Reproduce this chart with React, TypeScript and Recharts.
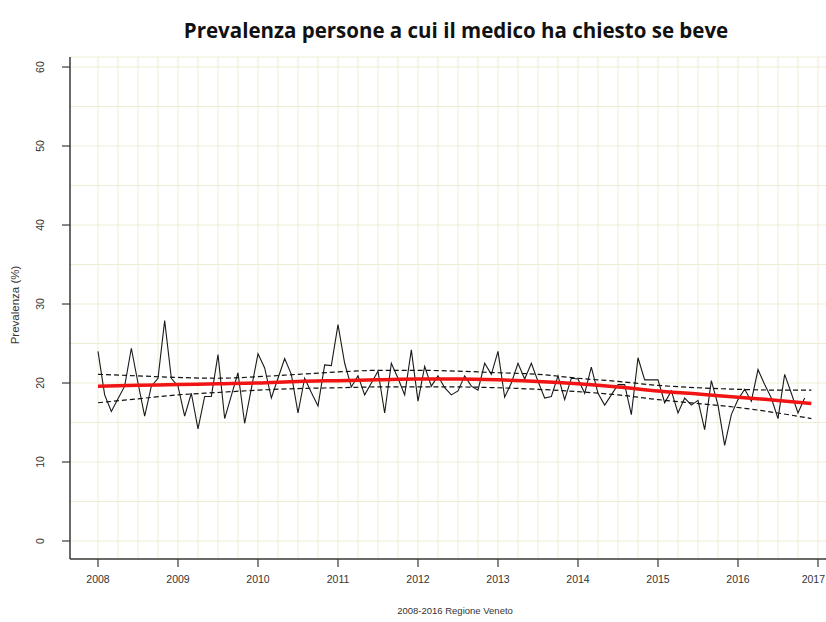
import React from "react";
import {
  LineChart,
  Line,
  XAxis,
  YAxis,
  CartesianGrid,
} from "recharts";

// Prevalenza mensile (%), gen 2008 - nov 2016
const prevalenza = [
  24.0, 18.5, 16.4, 18.0, 19.6, 24.4, 20.0, 15.8, 19.6, 20.6, 27.9, 20.6,
  19.6, 15.8, 18.7, 14.2, 18.3, 18.3, 23.6, 15.5, 18.4, 21.3, 14.9, 19.3,
  23.7, 21.9, 18.1, 20.6, 23.1, 21.1, 16.2, 20.6, 18.8, 17.1, 22.3, 22.2,
  27.4, 22.5, 19.5, 20.9, 18.5, 20.0, 21.5, 16.2, 22.5, 20.6, 18.5, 24.2,
  17.7, 22.1, 19.6, 20.9, 19.4, 18.5, 19.0, 20.9, 19.6, 19.1, 22.5, 21.1,
  24.0, 18.2, 20.0, 22.5, 20.5, 22.5, 20.2, 18.1, 18.3, 20.9, 17.9, 20.6,
  20.5, 18.7, 22.0, 18.7, 17.2, 18.5, 19.8, 19.8, 16.0, 23.2, 20.4, 20.4,
  20.4, 17.5, 19.0, 16.2, 18.1, 17.2, 17.8, 14.1, 20.3, 17.2, 12.1, 16.0,
  17.9, 19.2, 17.7, 21.7, 19.8, 18.1, 15.5, 21.1, 18.7, 16.2, 18.1,
];

// trend (rosso) e intervallo (tratteggiato), letti ogni sei mesi
const trendAnni = [
  2008, 2008.5, 2009, 2009.5, 2010, 2010.5, 2011, 2011.5, 2012, 2012.5, 2013,
  2013.5, 2014, 2014.5, 2015, 2015.5, 2016, 2016.5, 2016.917,
];
const trend = [
  19.6, 19.7, 19.8, 19.9, 20.0, 20.2, 20.3, 20.4, 20.5, 20.5, 20.4, 20.2,
  19.9, 19.5, 19.0, 18.6, 18.2, 17.8, 17.4,
];
const superiore = [
  21.1, 20.9, 20.7, 20.6, 20.8, 21.1, 21.4, 21.6, 21.6, 21.5, 21.3, 21.1,
  20.6, 20.2, 19.7, 19.4, 19.2, 19.1, 19.1,
];
const inferiore = [
  17.5, 18.0, 18.5, 18.8, 19.1, 19.3, 19.4, 19.5, 19.5, 19.5, 19.4, 19.2,
  18.9, 18.5, 17.9, 17.4, 16.9, 16.2, 15.5,
];

const anniTick = [
  2008, 2008.25, 2008.5, 2008.75, 2009, 2009.25, 2009.5, 2009.75, 2010,
  2010.25, 2010.5, 2010.75, 2011, 2011.25, 2011.5, 2011.75, 2012, 2012.25,
  2012.5, 2012.75, 2013, 2013.25, 2013.5, 2013.75, 2014, 2014.25, 2014.5,
  2014.75, 2015, 2015.25, 2015.5, 2015.75, 2016, 2016.25, 2016.5, 2016.75,
  2017,
];
const yTick = [0, 5, 10, 15, 20, 25, 30, 35, 40, 45, 50, 55, 60];

const mesi = prevalenza.map((v, i) => ({ t: 2008 + i / 12, v }));
const trendData = trendAnni.map((t, i) => ({
  t,
  trend: trend[i],
  sup: superiore[i],
  inf: inferiore[i],
}));

const AXIS = "#3a3a3a";
const FONT = "'Liberation Sans', Arial, sans-serif";

// eslint-disable-next-line @typescript-eslint/no-explicit-any
const XTick = (props: any) => {
  const { x, y, payload } = props;
  if (!Number.isInteger(payload.value)) return null;
  // l'ultima etichetta non deve uscire dal bordo
  const atEdge = x + 13 > 825;
  return (
    <g>
      <line x1={x} x2={x} y1={y} y2={y + 8} stroke={AXIS} strokeWidth={1.2} />
      <text
        x={atEdge ? 825 : x}
        y={y + 20}
        textAnchor={atEdge ? "end" : "middle"}
        dominantBaseline="central"
        fontSize={10.5}
        fontFamily={FONT}
        fill="#333"
      >
        {payload.value}
      </text>
    </g>
  );
};

// eslint-disable-next-line @typescript-eslint/no-explicit-any
const YTick = (props: any) => {
  const { x, y, payload } = props;
  if (payload.value % 10 !== 0) return null;
  const tx = x - 30;
  return (
    <g>
      <line x1={x - 8} x2={x} y1={y} y2={y} stroke={AXIS} strokeWidth={1.2} />
      <text
        x={tx}
        y={y}
        transform={`rotate(-90, ${tx}, ${y})`}
        textAnchor="middle"
        dominantBaseline="central"
        fontSize={10.5}
        fontFamily={FONT}
        fill="#333"
      >
        {payload.value}
      </text>
    </g>
  );
};

export default function App() {
  return (
    <div
      style={{
        position: "absolute",
        left: 0,
        top: 0,
        width: 826,
        height: 622,
        overflow: "hidden",
        background: "#fff",
      }}
    >
      <div
        style={{
          position: "absolute",
          left: 0,
          width: 912,
          top: 16,
          textAlign: "center",
          fontFamily: "'Open Sans', sans-serif",
          fontWeight: 700,
          fontSize: 20.5,
          color: "#111",
        }}
      >
        Prevalenza persone a cui il medico ha chiesto se beve
      </div>
      <LineChart
        width={850}
        height={622}
        data={mesi}
        margin={{ top: 57, right: 10, bottom: 33, left: 30 }}
      >
        <CartesianGrid stroke="#ededd6" strokeWidth={1} />
        <XAxis
          dataKey="t"
          type="number"
          domain={[2007.65, 2017.275]}
          ticks={anniTick}
          interval={0}
          height={30}
          tickSize={0}
          tickMargin={0}
          tickLine={false}
          tick={<XTick />}
          axisLine={{ stroke: AXIS, strokeWidth: 1.5 }}
          allowDataOverflow
        />
        <XAxis
          xAxisId="top"
          orientation="top"
          dataKey="t"
          type="number"
          domain={[2007.65, 2017.275]}
          height={0}
          tick={false}
          tickLine={false}
          axisLine={{ stroke: AXIS, strokeWidth: 1.5 }}
        />
        <YAxis
          type="number"
          domain={[-2.28, 61.27]}
          ticks={yTick}
          interval={0}
          width={40}
          tickSize={0}
          tickMargin={0}
          tickLine={false}
          tick={<YTick />}
          axisLine={{ stroke: AXIS, strokeWidth: 1.5 }}
          allowDataOverflow
        />
        <Line
          data={mesi}
          dataKey="v"
          type="linear"
          stroke="#1a1a1a"
          strokeWidth={1.1}
          dot={false}
          isAnimationActive={false}
        />
        <Line
          data={trendData}
          dataKey="sup"
          type="monotone"
          stroke="#111"
          strokeWidth={1.2}
          strokeDasharray="5 3"
          dot={false}
          isAnimationActive={false}
        />
        <Line
          data={trendData}
          dataKey="inf"
          type="monotone"
          stroke="#111"
          strokeWidth={1.2}
          strokeDasharray="5 3"
          dot={false}
          isAnimationActive={false}
        />
        <Line
          data={trendData}
          dataKey="trend"
          type="monotone"
          stroke="#f01414"
          strokeWidth={3.5}
          dot={false}
          isAnimationActive={false}
        />
      </LineChart>
      <div
        style={{
          position: "absolute",
          left: 0,
          width: 910,
          top: 605,
          textAlign: "center",
          fontFamily: FONT,
          fontSize: 9.5,
          color: "#333",
        }}
      >
        2008-2016 Regione Veneto
      </div>
      <div
        style={{
          position: "absolute",
          left: 15,
          top: 305,
          transform: "translate(-50%, -50%) rotate(-90deg)",
          whiteSpace: "nowrap",
          fontFamily: FONT,
          fontSize: 11.5,
          color: "#333",
        }}
      >
        Prevalenza (%)
      </div>
    </div>
  );
}
